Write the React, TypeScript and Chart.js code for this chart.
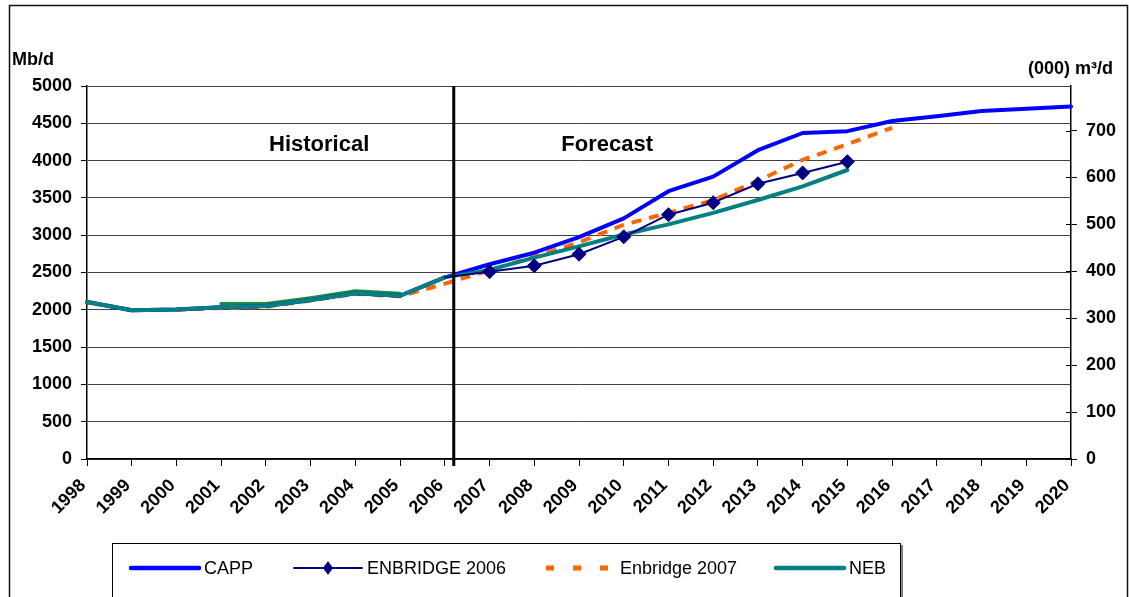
import { useEffect, useRef } from 'react';
import { Chart, registerables } from 'chart.js';

Chart.register(...registerables);

// ---- data ----
const years = [
  '1998', '1999', '2000', '2001', '2002', '2003', '2004', '2005', '2006', '2007', '2008', '2009',
  '2010', '2011', '2012', '2013', '2014', '2015', '2016', '2017', '2018', '2019', '2020',
];

const capp = [
  2105, 1995, 2003, 2035, 2050, 2130, 2222, 2188, 2435, 2610, 2765, 2975,
  3225, 3590, 3785, 4140, 4370, 4395, 4530, 4595, 4665, 4695, 4725,
];

const enbridge2006 = [
  null, null, null, null, null, null, null, null, 2435, 2510, 2590, 2745,
  2978, 3275, 3436, 3690, 3835, 3985, null, null, null, null, null,
];

const enbridge2007 = [
  2105, 1995, 2000, 2025, 2040, 2125, 2215, 2180, 2350, 2530, 2710, 2905,
  3140, 3300, 3470, 3730, 4010, 4220, 4440, null, null, null, null,
];

const neb = [
  2105, 1995, 2003, 2035, 2050, 2130, 2222, 2188, 2435, 2535, 2700, 2850,
  3010, 3145, 3300, 3472, 3655, 3874, null, null, null, null, null,
];

// faint historical trace visible under the NEB line (not in legend)
const historicalTrace = [
  null, null, null, 2080, 2080, 2160, 2252, 2218, null, null, null, null,
  null, null, null, null, null, null, null, null, null, null, null,
];

const leftTicks = [0, 500, 1000, 1500, 2000, 2500, 3000, 3500, 4000, 4500, 5000];
const rightTicks = [0, 100, 200, 300, 400, 500, 600, 700];

const seriesNames = ['CAPP', 'ENBRIDGE 2006', 'Enbridge 2007', 'NEB'];
const leftAxisTitle = 'Mb/d';
const rightAxisTitle = '(000) m³/d';
const periodLabels = ['Historical', 'Forecast'];
const BBL_PER_M3 = 6.2898;

// ---- layout / style constants ----
const FONT = '"Liberation Sans", Arial, Helvetica, sans-serif';
const DIVIDER_INDEX = 8.2;
const PERIOD_POS = [
  { x: 5.19, y: 4210 },
  { x: 11.63, y: 4210 },
];

const COLORS = ['#0000FF', '#000080', '#FF6600', '#008080'];

const decorPlugin = {
  id: 'decor',
  beforeDraw(chart: any) {
    const ctx = chart.ctx;
    ctx.save();
    ctx.fillStyle = '#ffffff';
    ctx.fillRect(0, 0, chart.width, chart.height);
    ctx.restore();
  },
  afterDraw(chart: any) {
    const { ctx, chartArea, scales } = chart;
    const xs = scales.x;
    const ys = scales.y;
    const y2 = scales.y2;
    ctx.save();

    // right axis tick marks cross the axis line (inner half)
    ctx.strokeStyle = '#000';
    ctx.lineWidth = 1;
    rightTicks.forEach((v) => {
      const py = Math.round(y2.getPixelForValue(v)) + 0.5;
      ctx.beginPath();
      ctx.moveTo(chartArea.right - 5, py);
      ctx.lineTo(chartArea.right, py);
      ctx.stroke();
    });

    // divider between history and forecast
    const dx = xs.getPixelForValue(DIVIDER_INDEX);
    ctx.strokeStyle = '#000';
    ctx.lineWidth = 3;
    ctx.beginPath();
    ctx.moveTo(dx, chartArea.top);
    ctx.lineTo(dx, chartArea.bottom + 7);
    ctx.stroke();

    // period labels
    ctx.fillStyle = '#000';
    ctx.font = `bold 22px ${FONT}`;
    ctx.textAlign = 'center';
    ctx.textBaseline = 'middle';
    periodLabels.forEach((t, i) => {
      ctx.fillText(t, xs.getPixelForValue(PERIOD_POS[i].x), ys.getPixelForValue(PERIOD_POS[i].y));
    });

    // axis titles
    ctx.font = `bold 18px ${FONT}`;
    ctx.textBaseline = 'alphabetic';
    ctx.textAlign = 'left';
    ctx.fillText(leftAxisTitle, 12, 65);
    ctx.textAlign = 'right';
    ctx.fillText(rightAxisTitle, 1113, 74);

    // outer frame
    ctx.strokeStyle = '#111';
    ctx.lineWidth = 1.5;
    ctx.strokeRect(9.5, 5.5, 1118, 640);

    // legend box
    ctx.fillStyle = '#ffffff';
    ctx.fillRect(112.5, 543.5, 788, 80);
    ctx.strokeStyle = '#808080';
    ctx.lineWidth = 2;
    ctx.beginPath();
    ctx.moveTo(902, 545);
    ctx.lineTo(902, 600);
    ctx.stroke();
    ctx.strokeStyle = '#000';
    ctx.lineWidth = 1;
    ctx.strokeRect(112.5, 543.5, 788, 80);

    const starts = [131, 294, 546, 776];
    const sampleLen = 68;
    const ly = 568;
    ctx.font = `18px ${FONT}`;
    ctx.textAlign = 'left';
    ctx.textBaseline = 'middle';
    seriesNames.forEach((name, i) => {
      const sx = starts[i];
      ctx.save();
      ctx.strokeStyle = COLORS[i];
      if (i === 2) {
        ctx.lineWidth = 5;
        ctx.lineCap = 'butt';
        ctx.setLineDash([8, 19]);
        ctx.beginPath();
        ctx.moveTo(sx, ly);
        ctx.lineTo(sx + 62, ly);
        ctx.stroke();
      } else {
        ctx.lineWidth = i === 1 ? 2 : 4.5;
        ctx.lineCap = 'round';
        ctx.beginPath();
        ctx.moveTo(sx, ly);
        ctx.lineTo(sx + sampleLen, ly);
        ctx.stroke();
        if (i === 1) {
          const cx = sx + sampleLen / 2;
          ctx.fillStyle = COLORS[1];
          ctx.beginPath();
          ctx.moveTo(cx, ly - 7);
          ctx.lineTo(cx + 5, ly);
          ctx.lineTo(cx, ly + 7);
          ctx.lineTo(cx - 5, ly);
          ctx.closePath();
          ctx.fill();
        }
      }
      ctx.restore();
      ctx.fillStyle = '#000';
      const tx = i === 2 ? sx + 74 : sx + sampleLen + 5;
      ctx.fillText(name, tx, ly + 1);
    });

    ctx.restore();
  },
};

export default function App() {
  const canvasRef = useRef<HTMLCanvasElement | null>(null);

  useEffect(() => {
    const canvas = canvasRef.current;
    if (!canvas) return;

    const tickFont = { family: FONT, size: 18, weight: 'bold' as const };

    const chart = new Chart(canvas, {
      type: 'line',
      data: {
        labels: years,
        datasets: [
          {
            label: seriesNames[0],
            data: capp,
            borderColor: COLORS[0],
            backgroundColor: COLORS[0],
            borderWidth: 4,
            pointRadius: 0,
            order: 2,
          },
          {
            label: seriesNames[1],
            data: enbridge2006,
            borderColor: COLORS[1],
            backgroundColor: COLORS[1],
            borderWidth: 2,
            pointStyle: 'rectRot',
            pointRadius: enbridge2006.map((v, i) => (v !== null && i > 8 ? 7 : 0)),
            pointBorderWidth: 1,
            order: 0,
          },
          {
            label: seriesNames[2],
            data: enbridge2007,
            borderColor: COLORS[2],
            backgroundColor: COLORS[2],
            borderWidth: 4,
            borderDash: [10, 8],
            borderCapStyle: 'butt',
            pointRadius: 0,
            order: 3,
          },
          {
            label: seriesNames[3],
            data: neb,
            borderColor: COLORS[3],
            backgroundColor: COLORS[3],
            borderWidth: 4,
            pointRadius: 0,
            order: 1,
          },
          {
            label: 'history',
            data: historicalTrace,
            borderColor: '#1d8a3a',
            backgroundColor: '#1d8a3a',
            borderWidth: 3.5,
            pointRadius: 0,
            order: 4,
          },
        ],
      },
      options: {
        animation: false,
        responsive: false,
        maintainAspectRatio: false,
        devicePixelRatio: 1,
        layout: { padding: { top: 86, left: 0, right: 0, bottom: 0 } },
        elements: {
          line: { tension: 0, borderJoinStyle: 'round', borderCapStyle: 'round' },
        },
        plugins: {
          legend: { display: false },
          tooltip: { enabled: false },
          title: { display: false },
        },
        scales: {
          x: {
            type: 'category',
            offset: false,
            grid: {
              drawOnChartArea: false,
              drawTicks: true,
              tickLength: 7,
              tickColor: '#000',
            },
            border: { color: '#000', width: 1.5 },
            ticks: {
              autoSkip: false,
              maxRotation: 45,
              minRotation: 45,
              padding: 9,
              labelOffset: -4,
              color: '#000',
              font: { family: FONT, size: 18, weight: 'bold' },
            },
            afterFit: (s: any) => {
              s.height = 138;
            },
          },
          y: {
            position: 'left',
            min: 0,
            max: 5000,
            afterBuildTicks: (s: any) => {
              s.ticks = leftTicks.map((v) => ({ value: v }));
            },
            ticks: {
              padding: 9,
              color: '#000',
              font: tickFont,
              callback: (v: any) => String(v),
            },
            grid: { color: '#404040', lineWidth: 1, tickLength: 6, tickColor: '#000' },
            border: { color: '#000', width: 1.5 },
            afterFit: (s: any) => {
              s.width = 87;
            },
          },
          y2: {
            position: 'right',
            min: 0,
            max: 5000 / BBL_PER_M3,
            afterBuildTicks: (s: any) => {
              s.ticks = rightTicks.map((v) => ({ value: v }));
            },
            ticks: {
              padding: 9,
              color: '#000',
              font: tickFont,
              callback: (v: any) => String(v),
            },
            grid: { drawOnChartArea: false, tickLength: 6, tickColor: '#000' },
            border: { color: '#000', width: 1.5 },
            afterFit: (s: any) => {
              s.width = 58;
            },
          },
        },
      },
      plugins: [decorPlugin],
    } as any);

    return () => {
      chart.destroy();
    };
  }, []);

  return (
    <div style={{ position: 'absolute', left: 0, top: 0, width: 1129, height: 597, overflow: 'hidden' }}>
      <canvas ref={canvasRef} width={1129} height={597} style={{ display: 'block' }} />
    </div>
  );
}
